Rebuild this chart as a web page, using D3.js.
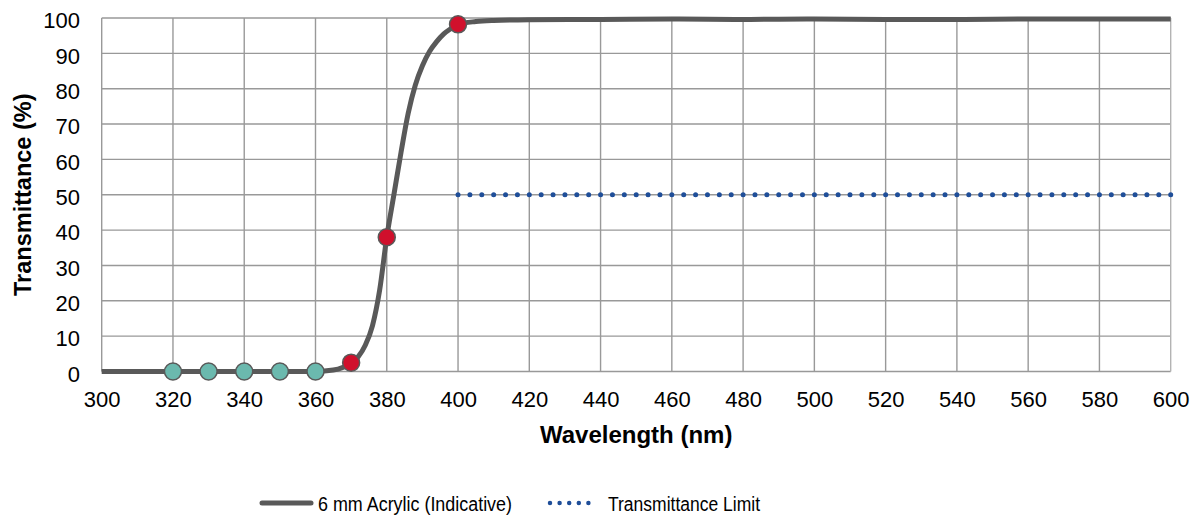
<!DOCTYPE html>
<html>
<head>
<meta charset="utf-8">
<script src="https://cdn.jsdelivr.net/npm/d3@7"></script>
<style>
  body { margin: 0; background: #fff; }
  svg { font-family: "Liberation Sans", Arial, sans-serif; }
</style>
</head>
<body>
<svg width="1202" height="517"></svg>
<script>
// wavelength (nm) and transmittance (%)
var wavelengths = [300, 310, 320, 330, 340, 350, 360, 365, 370, 372, 374, 376, 378, 380, 382, 384, 386, 388, 390, 392, 394, 396, 398, 400, 405, 410, 420, 440, 460, 480, 500, 520, 540, 560, 580, 600];
var transmittance = [0, 0, 0, 0, 0, 0, 0, 0.4, 2.5, 4.2, 7.5, 13, 23, 38, 50, 62, 73, 81, 86.5, 90.5, 93.3, 95.5, 97, 98.2, 99, 99.3, 99.5, 99.6, 99.7, 99.6, 99.7, 99.6, 99.6, 99.7, 99.7, 99.7];

// measured points shown as markers
var lowNm = [320, 330, 340, 350, 360];
var lowVal = [0, 0, 0, 0, 0];
var highNm = [370, 380, 400];
var highVal = [2.5, 38, 98.2];

// limit line
var limitNm = [400, 600];
var limitVal = [50, 50];

var xTicks = d3.range(300, 601, 20);
var yTicks = d3.range(0, 101, 10);

var svg = d3.select("svg");
var mLeft = 101.7, mRight = 1170.7, mTop = 18, mBottom = 371.5;
var width = mRight - mLeft, height = mBottom - mTop;

var x = d3.scaleLinear().domain([300, 600]).range([0, width]);
var y = d3.scaleLinear().domain([0, 100]).range([height, 0]);

var g = svg.append("g").attr("transform", "translate(" + mLeft + "," + mTop + ")");

// grid
g.selectAll(".hgrid")
  .data(yTicks)
  .enter().append("line")
  .attr("class", "hgrid")
  .attr("x1", 0).attr("x2", width)
  .attr("y1", function(d) { return y(d); })
  .attr("y2", function(d) { return y(d); })
  .attr("stroke", "#999")
  .attr("stroke-width", 1.4);
g.selectAll(".vgrid")
  .data(xTicks)
  .enter().append("line")
  .attr("class", "vgrid")
  .attr("x1", function(d) { return x(d); })
  .attr("x2", function(d) { return x(d); })
  .attr("y1", 0).attr("y2", height)
  .attr("stroke", function(d) { return d === 600 ? "#b3b3b3" : "#999"; })
  .attr("stroke-width", 1.4);

// tick labels
var xAxis = g.append("g")
  .attr("transform", "translate(0," + height + ")")
  .call(d3.axisBottom(x).tickValues(xTicks).tickSize(0).tickPadding(19.4));
var yAxis = g.append("g")
  .call(d3.axisLeft(y).tickValues(yTicks).tickSize(0).tickPadding(21.7));
[xAxis, yAxis].forEach(function(a) {
  a.select(".domain").remove();
  a.selectAll("text").attr("font-size", "22px").attr("fill", "#000")
    .attr("font-family", "'Liberation Sans', Arial, sans-serif");
});
yAxis.selectAll("text").attr("dy", "0.44em");

// axis titles
svg.append("text")
  .attr("x", mLeft + width / 2)
  .attr("y", 443)
  .attr("text-anchor", "middle")
  .attr("font-size", "24px")
  .attr("font-weight", "bold")
  .text("Wavelength (nm)");

svg.append("text")
  .attr("transform", "translate(31," + (mTop + height / 2) + ") rotate(-90)")
  .attr("text-anchor", "middle")
  .attr("font-size", "23.5px")
  .attr("font-weight", "bold")
  .text("Transmittance (%)");

// limit line (dotted)
var limitData = limitNm.map(function(d, i) { return [d, limitVal[i]]; });
var gap = (x(600) - x(400)) / 60;
g.append("path")
  .datum(limitData)
  .attr("fill", "none")
  .attr("stroke", "#1f4e99")
  .attr("stroke-width", 5)
  .attr("stroke-linecap", "round")
  .attr("stroke-dasharray", "0," + gap)
  .attr("d", d3.line().x(function(d) { return x(d[0]); }).y(function(d) { return y(d[1]); }));

// acrylic curve
var curveData = wavelengths.map(function(d, i) { return [d, transmittance[i]]; });
g.append("path")
  .datum(curveData)
  .attr("fill", "none")
  .attr("stroke", "#595959")
  .attr("stroke-width", 5)
  .attr("stroke-linejoin", "round")
  .attr("d", d3.line().curve(d3.curveMonotoneX)
    .x(function(d) { return x(d[0]); })
    .y(function(d) { return y(d[1]); }));

// markers
g.selectAll(".low")
  .data(lowNm)
  .enter().append("circle")
  .attr("class", "low")
  .attr("cx", function(d) { return x(d); })
  .attr("cy", function(d, i) { return y(lowVal[i]); })
  .attr("r", 8.5)
  .attr("fill", "#6bb9ae")
  .attr("stroke", "#595959")
  .attr("stroke-width", 1.5);

g.selectAll(".high")
  .data(highNm)
  .enter().append("circle")
  .attr("class", "high")
  .attr("cx", function(d) { return x(d); })
  .attr("cy", function(d, i) { return y(highVal[i]); })
  .attr("r", 8.5)
  .attr("fill", "#d0102c")
  .attr("stroke", "#595959")
  .attr("stroke-width", 1.5);

// legend
var lg = svg.append("g").attr("transform", "translate(0,503)");
lg.append("line")
  .attr("x1", 262).attr("x2", 311)
  .attr("stroke", "#595959")
  .attr("stroke-width", 5)
  .attr("stroke-linecap", "round");
lg.append("text")
  .attr("x", 318).attr("y", 7.5)
  .attr("font-size", "20px")
  .attr("textLength", 194)
  .attr("lengthAdjust", "spacingAndGlyphs")
  .text("6 mm Acrylic (Indicative)");
lg.append("line")
  .attr("x1", 550).attr("x2", 598)
  .attr("stroke", "#1f4e99")
  .attr("stroke-width", 4.5)
  .attr("stroke-linecap", "round")
  .attr("stroke-dasharray", "0,9.6");
lg.append("text")
  .attr("x", 608).attr("y", 7.5)
  .attr("font-size", "20px")
  .attr("textLength", 152)
  .attr("lengthAdjust", "spacingAndGlyphs")
  .text("Transmittance Limit");
</script>
</body>
</html>
